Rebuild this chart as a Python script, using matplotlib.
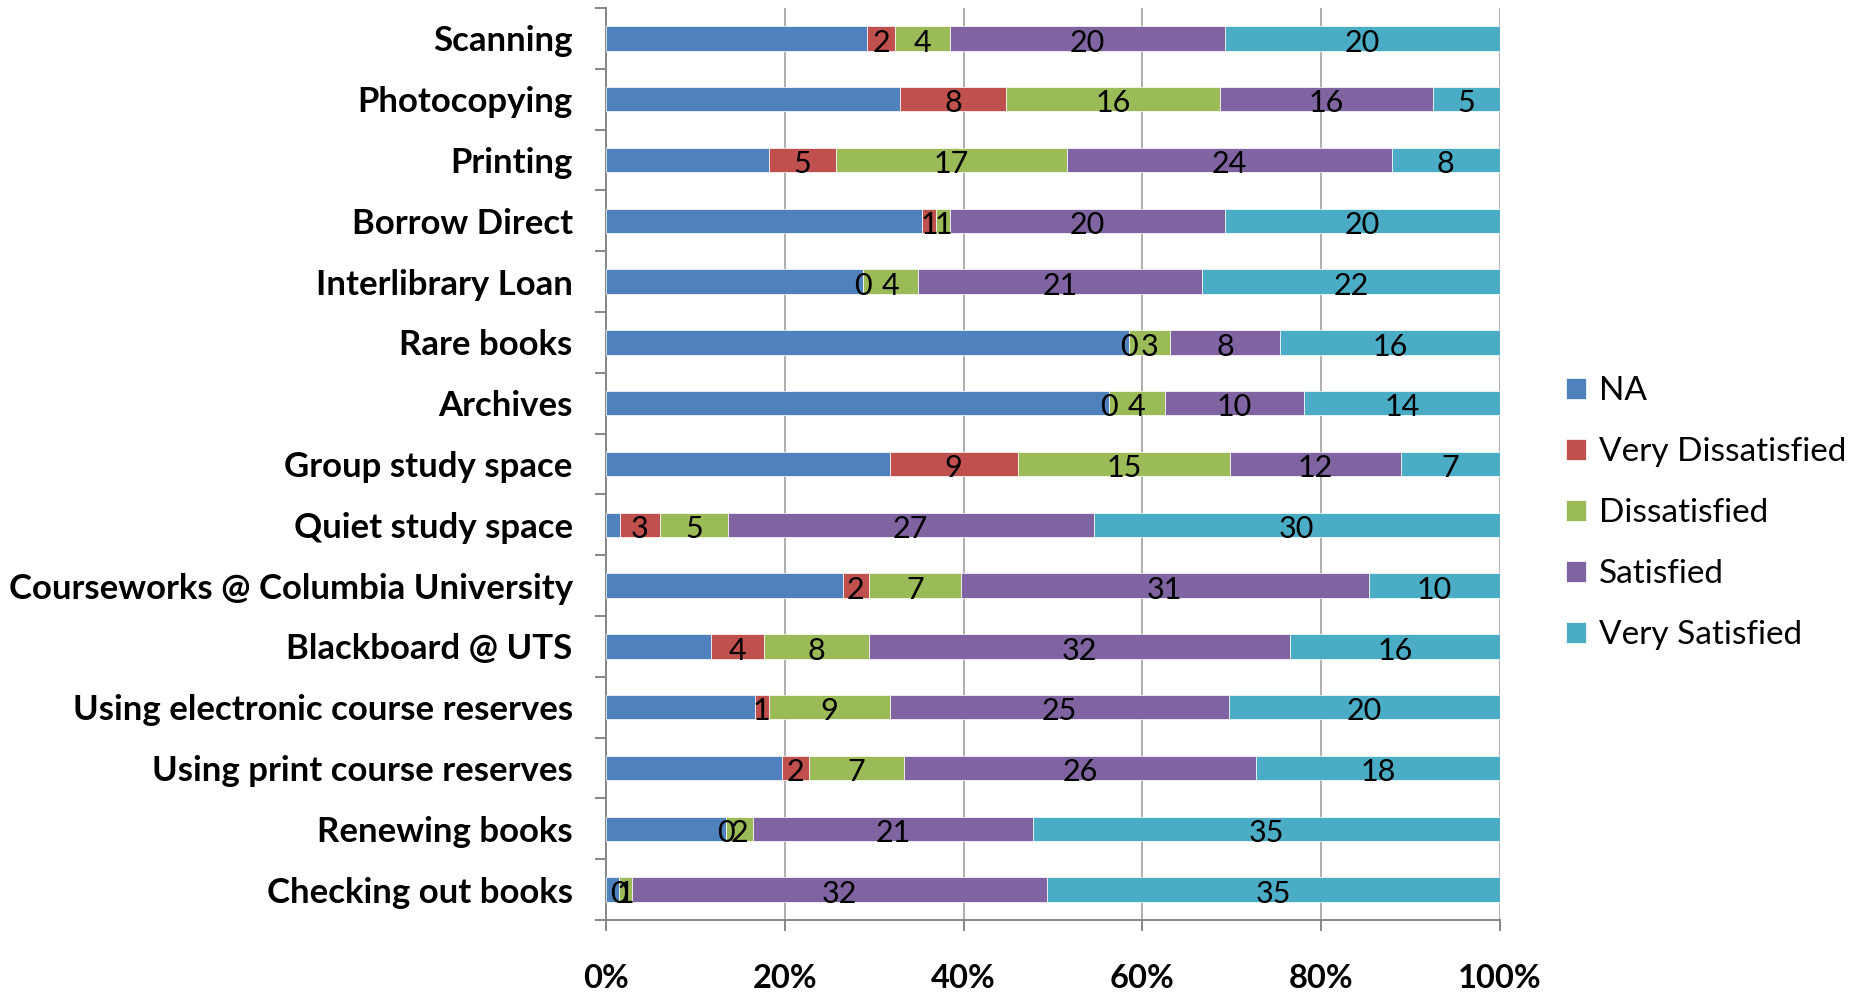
import numpy as np
import matplotlib
matplotlib.use("Agg")
import matplotlib.pyplot as plt

categories = ["Scanning", "Photocopying", "Printing", "Borrow Direct", "Interlibrary Loan",
              "Rare books", "Archives", "Group study space", "Quiet study space",
              "Courseworks @ Columbia University", "Blackboard @ UTS",
              "Using electronic course reserves", "Using print course reserves",
              "Renewing books", "Checking out books"]
series = ["NA", "Very Dissatisfied", "Dissatisfied", "Satisfied", "Very Satisfied"]
na = [19, 22, 12, 23, 19, 38, 36, 20, 1, 18, 8, 11, 13, 9, 1]
very_dissatisfied = [2, 8, 5, 1, 0, 0, 0, 9, 3, 2, 4, 1, 2, 0, 0]
dissatisfied = [4, 16, 17, 1, 4, 3, 4, 15, 5, 7, 8, 9, 7, 2, 1]
satisfied = [20, 16, 24, 20, 21, 8, 10, 12, 27, 31, 32, 25, 26, 21, 32]
very_satisfied = [20, 5, 8, 20, 22, 16, 14, 7, 30, 10, 16, 20, 18, 35, 35]
colors = ["#4F81BD", "#C0504D", "#9BBB59", "#8064A2", "#4BACC6"]
xticklabels = ["0%", "20%", "40%", "60%", "80%", "100%"]

plt.rcParams['font.family'] = ['Lato', 'DejaVu Sans']

data = np.array([na, very_dissatisfied, dissatisfied, satisfied, very_satisfied], dtype=float)
totals = data.sum(axis=0)
shares = data / totals

fig = plt.figure(figsize=(18.5, 9.93), dpi=100)
ax = fig.add_axes([0.3276, 0.0735, 0.8108 - 0.3276, 0.992 - 0.0735])

y = np.arange(len(categories))[::-1]
left = np.zeros(len(categories))
for i, name in enumerate(series):
    ax.barh(y, shares[i], left=left, height=0.4, color=colors[i],
            edgecolor="white", linewidth=0.5, label=name, zorder=3)
    # NA segment carries no value label in the original
    if i > 0:
        for j in range(len(categories)):
            ax.annotate("%d" % data[i, j], (left[j] + shares[i, j] / 2, y[j]),
                        xytext=(0, -3), textcoords="offset points",
                        ha="center", va="center", fontsize=22, color="black", zorder=4)
    left = left + shares[i]

ax.set_xlim(0, 1)
ax.set_ylim(-0.5, len(categories) - 0.5)
ax.set_xticks(np.linspace(0, 1, 6))
ax.set_xticklabels(xticklabels, fontsize=23.5, fontweight="bold")
ax.set_yticks(y)
ax.set_yticklabels(categories, fontsize=25, fontweight="bold")
ax.set_yticks(np.arange(-0.5, len(categories), 1), minor=True)
ax.tick_params(axis="y", which="major", length=0, pad=24)
ax.tick_params(axis="y", which="minor", length=8, width=1.4, color="#868686")
ax.tick_params(axis="x", length=8, width=1.4, color="#868686", pad=24)

ax.grid(axis="x", color="#999999", linewidth=1.1, zorder=0)
for s in ["top", "right"]:
    ax.spines[s].set_visible(False)
for s in ["left", "bottom"]:
    ax.spines[s].set_color("#868686")
    ax.spines[s].set_linewidth(1.4)

fig.legend(loc="center left", bbox_to_anchor=(0.8465, 0.483), frameon=False,
           fontsize=24, handlelength=0.6, handleheight=0.6, handletextpad=0.4,
           labelspacing=0.93, borderpad=0, borderaxespad=0)

fig.savefig("out.png", dpi=100)
